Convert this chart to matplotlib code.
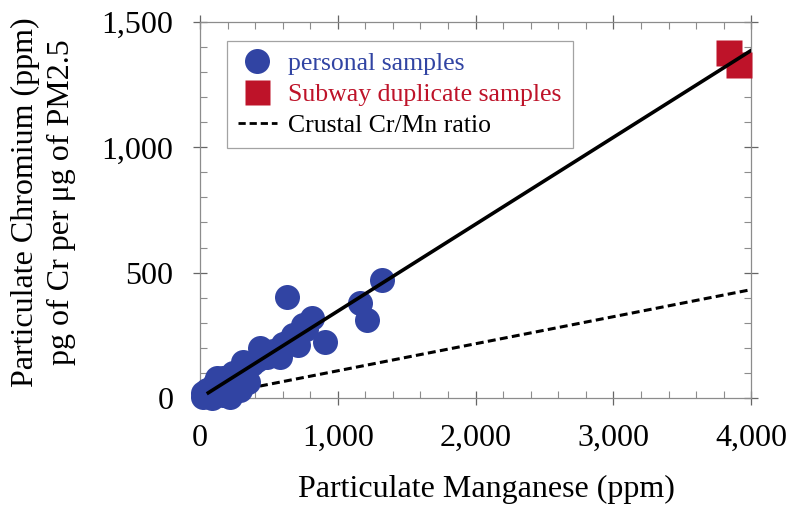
import matplotlib.pyplot as plt
from matplotlib.lines import Line2D
from matplotlib.ticker import MultipleLocator, FuncFormatter

plt.rcParams['font.family'] = ['Liberation Serif', 'DejaVu Serif']

# personal samples (Mn ppm, Cr ppm)
personal_mn = [24, 48, 85, 109, 121, 169, 169, 218, 242, 266, 290, 314, 327, 351,
               411, 435, 484, 580, 629, 641, 653, 677, 714, 750, 811, 907, 1161,
               1210, 1318, 24, 60, 140, 100, 150, 200, 300, 380, 460, 530, 600,
               700, 770]
personal_cr = [5, 32, 0, 58, 78, 78, 12, 5, 98, 39, 32, 145, 132, 65,
               152, 198, 165, 165, 404, 224, 218, 251, 211, 291, 318, 224, 378,
               311, 470, 20, 10, 25, 45, 55, 70, 105, 135, 165, 185, 215,
               250, 275]

# subway duplicate samples
subway_mn = [3840, 3913]
subway_cr = [1377, 1329]

# regression line and crustal ratio line
fit_x = [60, 4000]
fit_y = [20, 1387]
crust_x = [0, 4000]
crust_y = [0, 432]

blue = '#3144A3'
red = '#BE1329'
grey = '#8c8c8c'

fig = plt.figure(figsize=(8, 5.14), dpi=100)
ax = fig.add_axes([0.25, 0.226, 0.689, 0.731])

ax.plot(crust_x, crust_y, color='black', lw=2.2, linestyle=(0, (2.6, 1.4)), zorder=2)
ax.plot(personal_mn, personal_cr, 'o', color=blue, ms=18, mec='none', zorder=3, clip_on=False)
ax.plot(subway_mn, subway_cr, 's', color=red, ms=18.5, mec='none', zorder=3, clip_on=False)
ax.plot(fit_x, fit_y, color='black', lw=2.6, zorder=4)

ax.set_xlim(0, 4000)
ax.set_ylim(0, 1500)
ax.xaxis.set_major_locator(MultipleLocator(1000))
ax.xaxis.set_minor_locator(MultipleLocator(200))
ax.yaxis.set_major_locator(MultipleLocator(500))
ax.yaxis.set_minor_locator(MultipleLocator(100))
fmt = FuncFormatter(lambda v, p: f'{int(v):,}')
ax.xaxis.set_major_formatter(fmt)
ax.yaxis.set_major_formatter(fmt)

for s in ax.spines.values():
    s.set_color(grey)
    s.set_linewidth(0.9)
ax.tick_params(which='major', direction='inout', length=10, width=0.9, color='#666666',
               labelsize=23, top=True, right=True, pad=14)
ax.tick_params(which='minor', direction='in', length=5, width=0.8, color=grey,
               top=True, right=True)

ax.set_xlabel('Particulate Manganese (ppm)', fontsize=23)
ax.xaxis.set_label_coords(0.52, -0.205)
ax.set_ylabel('Particulate Chromium (ppm)\npg of Cr per μg of PM2.5', fontsize=23, linespacing=1.3)
ax.yaxis.set_label_coords(-0.225, 0.52)

handles = [
    Line2D([], [], marker='o', color=blue, ms=18, mec='none', linestyle='none'),
    Line2D([], [], marker='s', color=red, ms=18, mec='none', linestyle='none'),
    Line2D([], [], color='black', lw=2, linestyle=(0, (2.6, 1.4))),
]
labels = ['personal samples', 'Subway duplicate samples', 'Crustal Cr/Mn ratio']
leg = ax.legend(handles, labels, loc='upper left', bbox_to_anchor=(0.025, 0.985),
                fontsize=18.5, frameon=True, fancybox=False, handlelength=1.5,
                handletextpad=0.45, labelspacing=0.3, borderpad=0.45)
leg.get_frame().set_edgecolor(grey)
leg.get_frame().set_linewidth(0.9)
for t, c in zip(leg.get_texts(), [blue, red, 'black']):
    t.set_color(c)

fig.savefig('out.png', dpi=100)
